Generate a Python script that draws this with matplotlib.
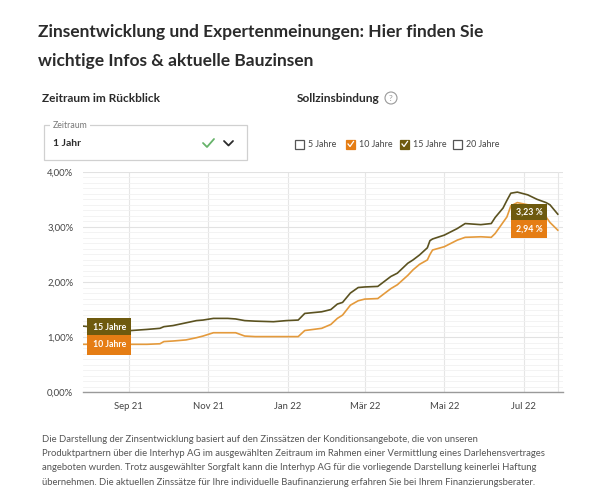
#============================IMPORTS================================
import matplotlib
matplotlib.use("Agg")
import matplotlib.pyplot as plt
from matplotlib.patches import Rectangle, Circle
import pandas as pd

plt.rcParams['font.family'] = ['Lato', 'DejaVu Sans']

#============================DATA===================================
dates = ["2021-07-28", "2021-08-11", "2021-08-23", "2021-09-03", "2021-09-15",
         "2021-09-25", "2021-09-28", "2021-10-05", "2021-10-15", "2021-10-23",
         "2021-10-28", "2021-11-05", "2021-11-16", "2021-11-22", "2021-11-29",
         "2021-12-07", "2021-12-21", "2021-12-31", "2022-01-09", "2022-01-14",
         "2022-01-27", "2022-02-03", "2022-02-08", "2022-02-12", "2022-02-18",
         "2022-02-24", "2022-03-01", "2022-03-11", "2022-03-21", "2022-03-26",
         "2022-04-03", "2022-04-07", "2022-04-12", "2022-04-18", "2022-04-20",
         "2022-04-22", "2022-05-01", "2022-05-11", "2022-05-17", "2022-05-29",
         "2022-06-06", "2022-06-09", "2022-06-15", "2022-06-18", "2022-06-21",
         "2022-06-26", "2022-07-04", "2022-07-11", "2022-07-18", "2022-07-21",
         "2022-07-27"]
zins_15 = [1.20, 1.17, 1.14, 1.12, 1.14, 1.16, 1.19, 1.21, 1.26, 1.30,
           1.31, 1.34, 1.34, 1.33, 1.30, 1.29, 1.28, 1.30, 1.31, 1.43,
           1.46, 1.50, 1.60, 1.63, 1.80, 1.90, 1.91, 1.92, 2.10, 2.16,
           2.34, 2.40, 2.49, 2.62, 2.75, 2.78, 2.85, 2.97, 3.06, 3.04,
           3.06, 3.17, 3.34, 3.48, 3.61, 3.63, 3.58, 3.50, 3.44, 3.40,
           3.23]
zins_10 = [0.87, 0.87, 0.87, 0.87, 0.87, 0.88, 0.92, 0.93, 0.95, 0.99,
           1.02, 1.08, 1.08, 1.08, 1.02, 1.01, 1.01, 1.01, 1.01, 1.12,
           1.16, 1.23, 1.34, 1.40, 1.58, 1.66, 1.69, 1.70, 1.88, 1.95,
           2.12, 2.22, 2.32, 2.40, 2.50, 2.58, 2.64, 2.76, 2.81, 2.82,
           2.81, 2.88, 3.08, 3.18, 3.38, 3.44, 3.40, 3.30, 3.18, 3.08,
           2.94]
series_names = ["15 Jahre", "10 Jahre"]
month_labels = ["Sep 21", "Nov 21", "Jan 22", "Mär 22", "Mai 22", "Jul 22"]
month_dates = ["2021-09-01", "2021-11-01", "2022-01-01", "2022-03-01", "2022-05-01", "2022-07-01"]
y_ticks = [0, 1, 2, 3, 4]
checkbox_labels = ["5 Jahre", "10 Jahre", "15 Jahre", "20 Jahre"]

disclaimer = [
    "Die Darstellung der Zinsentwicklung basiert auf den Zinssätzen der Konditionsangebote, die von unseren",
    "Produktpartnern über die Interhyp AG im ausgewählten Zeitraum im Rahmen einer Vermittlung eines Darlehensvertrages",
    "angeboten wurden. Trotz ausgewählter Sorgfalt kann die Interhyp AG für die vorliegende Darstellung keinerlei Haftung",
    "übernehmen. Die aktuellen Zinssätze für Ihre individuelle Baufinanzierung erfahren Sie bei Ihrem Finanzierungsberater.",
]

#============================STYLE==================================
OLIVE_LINE = "#5b5220"
OLIVE_BOX = "#6e5a0e"
ORANGE_LINE = "#e49a3c"
ORANGE_BOX = "#e57d14"
TEXT = "#2b2b2b"
W, H = 592, 500

#============================FIGURE=================================
fig = plt.figure(figsize=(W / 100, H / 100), dpi=100)
fig.patch.set_facecolor("white")

# overlay in pixel coordinates for the page elements
ov = fig.add_axes([0, 0, 1, 1])
ov.set_xlim(0, W)
ov.set_ylim(H, 0)
ov.axis("off")

# title
ov.text(38, 32, "Zinsentwicklung und Expertenmeinungen: Hier finden Sie",
        fontsize=12.5, fontweight="bold", color=TEXT, va="center")
ov.text(38, 61, "wichtige Infos & aktuelle Bauzinsen",
        fontsize=12.5, fontweight="bold", color=TEXT, va="center")

# section headers
ov.text(42, 99, "Zeitraum im Rückblick", fontsize=8.6, fontweight="bold", color=TEXT, va="center")
ov.text(297, 99, "Sollzinsbindung", fontsize=8.6, fontweight="bold", color=TEXT, va="center")
ov.add_patch(Circle((391, 98), 6, fill=False, ec="#999999", lw=0.8))
ov.text(391, 98.5, "?", fontsize=6, color="#999999", ha="center", va="center")

# dropdown box
ov.add_patch(Rectangle((44, 125), 203, 35, fill=False, ec="#d0d0d0", lw=0.9))
ov.add_patch(Rectangle((50, 122), 40, 6, fc="white", ec="none"))
ov.text(53, 126, "Zeitraum", fontsize=6.3, color="#777777", va="center")
ov.text(53, 143, "1 Jahr", fontsize=7.5, fontweight="bold", color=TEXT, va="center")
ov.plot([203, 207, 214], [143, 147, 139], color="#66b36a", lw=1.3, solid_capstyle="round")
ov.plot([224, 228.5, 233], [141, 145.5, 141], color=TEXT, lw=1.3, solid_capstyle="round")

# checkboxes
cb_x = [295, 346, 400, 453]
cb_fill = [None, ORANGE_BOX, OLIVE_BOX, None]
for lab, x, fc in zip(checkbox_labels, cb_x, cb_fill):
    if fc is None:
        ov.add_patch(Rectangle((x, 139.5), 9, 9, fill=False, ec="#555555", lw=0.9))
    else:
        ov.add_patch(Rectangle((x, 139.5), 9, 9, fc=fc, ec=fc, lw=0.9))
        ov.plot([x + 2, x + 4, x + 7.5], [144, 146.5, 141.5], color="white", lw=0.9)
    ov.text(x + 13, 144.5, lab, fontsize=6.4, color="#444444", va="center")

# disclaimer
for i, line in enumerate(disclaimer):
    ov.text(42, 439 + i * 14.5, line, fontsize=6.85, color="#555555", va="center")

#============================CHART==================================
df = pd.DataFrame({"date": pd.to_datetime(dates), "z15": zins_15, "z10": zins_10})

ax = fig.add_axes([83 / W, 1 - 392.3 / H, 480 / W, 220.6 / H])
ax.set_facecolor("none")
ax.plot(df["date"], df["z15"], color=OLIVE_LINE, lw=1.2, zorder=3)
ax.plot(df["date"], df["z10"], color=ORANGE_LINE, lw=1.2, zorder=3)

ax.set_xlim(pd.Timestamp("2021-07-28"), pd.Timestamp("2022-07-31"))
ax.set_ylim(0, 4)

ax.set_yticks(y_ticks)
ax.set_yticklabels([("%.2f%%" % v).replace(".", ",") for v in y_ticks])
ax.set_yticks([v / 10 for v in range(41)], minor=True)
ax.set_xticks(pd.to_datetime(month_dates))
ax.set_xticklabels(month_labels)
ax.tick_params(axis="both", which="both", length=0, labelsize=6.8, colors="#444444")
ax.tick_params(axis="y", pad=7)
ax.tick_params(axis="x", pad=7)

ax.grid(axis="y", which="minor", color="#f1f1f1", lw=0.6)
ax.grid(axis="y", which="major", color="#e2e2e2", lw=0.8)
ax.grid(axis="x", which="major", color="#e6e6e6", lw=0.8)
ax.axvline(df["date"].iloc[-1], color="#e6e6e6", lw=0.8, zorder=1)
ax.set_axisbelow(True)

for s in ["top", "right", "left"]:
    ax.spines[s].set_visible(False)
ax.spines["bottom"].set_color("#9a9a9a")
ax.spines["bottom"].set_linewidth(1.0)

# labels at the start of the lines
box_kw = dict(textcoords="offset points", va="center", fontsize=6.3,
              fontweight="bold", color="white", zorder=5)
ax.annotate(series_names[0], (df["date"].iloc[0], df["z15"].iloc[0] - 0.03), xytext=(7, 0), ha="left",
            bbox=dict(boxstyle="square,pad=0.6", fc=OLIVE_BOX, ec="none"), **box_kw)
ax.annotate(series_names[1], (df["date"].iloc[0], df["z10"].iloc[0] - 0.01), xytext=(7, 0), ha="left",
            bbox=dict(boxstyle="square,pad=0.6", fc=ORANGE_BOX, ec="none"), **box_kw)

# labels with the latest values
last15 = df["z15"].iloc[-1]
last10 = df["z10"].iloc[-1]
ax.annotate(("%.2f %%" % last15).replace(".", ","), (df["date"].iloc[-1], last15 + 0.03),
            xytext=(-11, 0), ha="right",
            bbox=dict(boxstyle="square,pad=0.5", fc=OLIVE_BOX, ec="none"), **box_kw)
ax.annotate(("%.2f %%" % last10).replace(".", ","), (df["date"].iloc[-1], last10 + 0.02),
            xytext=(-11, 0), ha="right",
            bbox=dict(boxstyle="square,pad=0.5", fc=ORANGE_BOX, ec="none"), **box_kw)

fig.savefig("out.png", dpi=100, facecolor="white")
